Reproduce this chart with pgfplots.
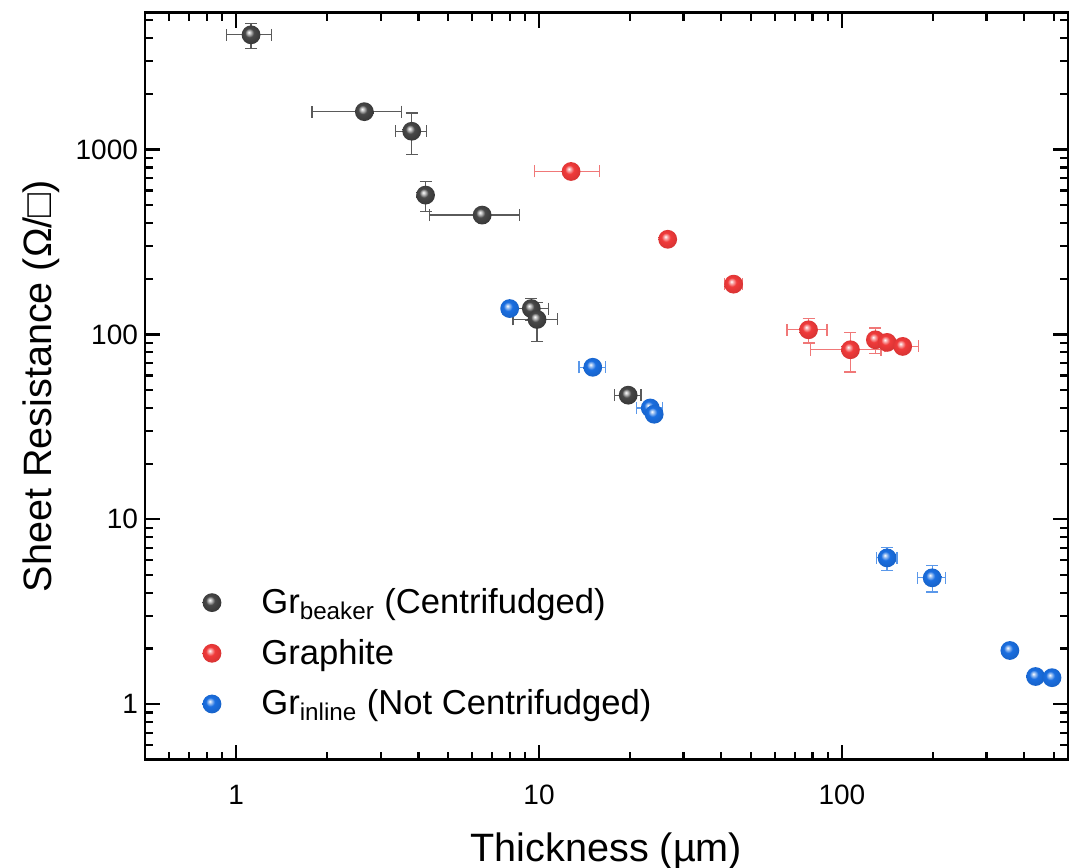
\documentclass[border=0pt]{standalone}
\usepackage{pgfplots}
\pgfplotsset{compat=1.18}
\usepackage{fontspec}
\setmainfont{Liberation Sans}
\definecolor{cgray}{HTML}{3E3E3E}
\definecolor{cred}{HTML}{F03A3A}
\definecolor{cblue}{HTML}{1A6EE0}
\definecolor{egray}{HTML}{5A5A5A}
\definecolor{ered}{HTML}{F07878}
\definecolor{eblue}{HTML}{5A98EA}

% shaded balls, brighter than the tikz default
\pgfdeclareradialshading{ballgray}{\pgfpoint{-6bp}{7bp}}{%
  color(0bp)=(white); color(5bp)=(cgray!35!white); color(12bp)=(cgray!95!white);
  color(30bp)=(cgray!85!black); color(50bp)=(cgray!60!black)}
\pgfdeclareradialshading{ballred}{\pgfpoint{-6bp}{7bp}}{%
  color(0bp)=(white); color(5bp)=(cred!45!white); color(12bp)=(cred);
  color(30bp)=(cred!88!black); color(50bp)=(cred!70!black)}
\pgfdeclareradialshading{ballblue}{\pgfpoint{-6bp}{7bp}}{%
  color(0bp)=(white); color(5bp)=(cblue!45!white); color(12bp)=(cblue);
  color(30bp)=(cblue!88!black); color(50bp)=(cblue!70!black)}
\pgfdeclareplotmark{bgray}{\pgfpathcircle{\pgfpointorigin}{\pgfplotmarksize}%
  \pgfshadepath{ballgray}{0}\pgfusepath{}}
\pgfdeclareplotmark{bred}{\pgfpathcircle{\pgfpointorigin}{\pgfplotmarksize}%
  \pgfshadepath{ballred}{0}\pgfusepath{}}
\pgfdeclareplotmark{bblue}{\pgfpathcircle{\pgfpointorigin}{\pgfplotmarksize}%
  \pgfshadepath{ballblue}{0}\pgfusepath{}}

\begin{document}
\begin{tikzpicture}
\begin{axis}[
  scale only axis,
  width=461.5pt, height=373.6pt,
  xmode=log, ymode=log,
  xmin=0.5, xmax=557, ymin=0.5, ymax=5500,
  log ticks with fixed point,
  /pgf/number format/1000 sep={},
  /pgf/number format/assume math mode=true,
  tick align=inside,
  major tick length=7.5pt, minor tick length=4pt,
  major tick style={black, line width=1.2pt},
  minor tick style={black, line width=1.1pt},
  axis line style={line width=1.3pt},
  tick label style={font=\fontsize{14}{16}\selectfont},
  xticklabel style={yshift=-9pt},
  xlabel={Thickness (µm)},
  ylabel={Sheet Resistance (Ω/□)},
  label style={font=\fontsize{19.8}{22}\selectfont},
  xlabel style={yshift=-7pt},
  ylabel style={yshift=1pt},
  legend cell align=left,
  legend style={at={(0.062,0.05)}, anchor=south west, draw=none, fill=none,
    font=\fontsize{17.3}{20}\selectfont, row sep=7.3pt, inner sep=0pt},
]
% Gr beaker (centrifuged)
\addplot[only marks, mark=bgray, mark size=4.7pt,
  error bars/.cd, x dir=both, x explicit, y dir=both, y explicit,
  error bar style={line width=0.6pt, egray},
  error mark options={rotate=90, mark size=3pt, line width=0.6pt, egray}]
coordinates {
  (1.12,4175) +- (0.19,650)
  (2.65,1603) +- (0.87,0)
  (3.80,1256) +- (0.45,320)
  (4.22,567) +- (0,107)
  (6.49,442) +- (2.13,0)
  (9.43,138) +- (1.3,19)
  (9.85,120.5) +- (1.65,29)
  (19.7,46.9) +- (2,0)
};
\addlegendentry{\hspace*{18pt}Gr\textsubscript{beaker} (Centrifudged)}
% Graphite
\addplot[only marks, mark=bred, mark size=4.7pt,
  error bars/.cd, x dir=both, x explicit, y dir=both, y explicit,
  error bar style={line width=0.6pt, ered},
  error mark options={rotate=90, mark size=3pt, line width=0.6pt, ered}]
coordinates {
  (12.76,761) +- (3.1,0)
  (26.6,327) +- (0.5,15)
  (43.9,187) +- (3,10)
  (77.6,105.9) +- (11.7,16)
  (106.7,82.6) +- (28,20)
  (129,93.5) +- (5,14.7)
  (141,90.5) +- (5,5)
  (158.8,86.1) +- (20,5)
};
\addlegendentry{\hspace*{18pt}Graphite}
% Gr inline (not centrifuged)
\addplot[only marks, mark=bblue, mark size=4.7pt,
  error bars/.cd, x dir=both, x explicit, y dir=both, y explicit,
  error bar style={line width=0.6pt, eblue},
  error mark options={rotate=90, mark size=3pt, line width=0.6pt, eblue}]
coordinates {
  (8.0,138) +- (0.4,5)
  (15.05,66.4) +- (1.5,3)
  (23.3,40) +- (2.3,2)
  (24,37) +- (1,2)
  (141,6.18) +- (11,0.88)
  (198.7,4.82) +- (21,0.78)
  (358.6,1.95) +- (10,0.1)
  (436,1.41) +- (10,0.06)
  (494,1.39) +- (10,0.06)
};
\addlegendentry{\hspace*{18pt}Gr\textsubscript{inline} (Not Centrifudged)}
\end{axis}
\pgfresetboundingbox
\path[use as bounding box] ([shift={(-72.5pt,-54pt)}]current axis.south west)
  rectangle ([shift={(0.6pt,6.35pt)}]current axis.north east);
\end{tikzpicture}
\end{document}
